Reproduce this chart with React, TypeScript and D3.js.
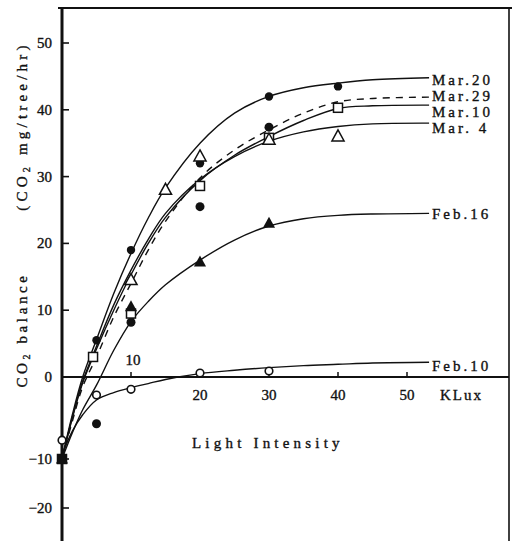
import React from "react";
import * as d3 from "d3";

// curve knots (x in KLux, y in CO2 mg/tree/hr)
const curveX = [0, 1.5, 3, 5, 7.5, 10, 12.5, 15, 20, 25, 30, 35, 40, 45, 53.2];
const mar20Curve = [-10, -4.6, 0, 5.6, 12.5, 18.5, 23.8, 28.3, 35, 39.5, 42, 43.3, 44, 44.5, 44.8];
const mar29Curve = [-10, -5.4, -1.2, 3, 9, 14, 19, 23.3, 29.8, 34, 37, 39.5, 41.2, 41.7, 41.9];
const mar10Curve = [-10, -5.0, -0.7, 4.2, 10, 15.3, 20, 23.9, 29.4, 33.2, 36, 38.4, 40.2, 40.6, 40.7];
const mar4Curve = [-10, -4.9, -0.5, 4.6, 10.8, 16, 20.6, 24.5, 29.6, 33, 35.3, 36.7, 37.5, 37.9, 38];
const feb16Curve = [-10, -6.8, -4.0, -1.0, 4.0, 8.3, 11.3, 13.8, 17.5, 20.5, 22.6, 23.7, 24.2, 24.4, 24.5];
const feb10Curve = [-9.5, -6.6, -4.6, -2.8, -1.9, -1.3, -0.8, -0.3, 0.5, 1.0, 1.4, 1.7, 1.9, 2.1, 2.2];

// observed points
const mar20PtsX = [5, 10, 20, 30, 40];
const mar20PtsY = [5.5, 19, 32, 42, 43.5];
const mar29PtsX = [0, 5, 10, 20, 30];
const mar29PtsY = [-10, -5.7, 8.2, 25.5, 37.4];
const mar10PtsX = [0, 4.5, 10, 20, 30, 40];
const mar10PtsY = [-10, 3, 9.5, 28.6, 35.8, 40.3];
const mar4PtsX = [10, 15, 20, 30, 40];
const mar4PtsY = [14.5, 28, 33, 35.5, 36];
const feb16PtsX = [0, 10, 20, 30];
const feb16PtsY = [-10, 10.5, 17.2, 23];
const feb10PtsX = [0, 5, 10, 20, 30];
const feb10PtsY = [-7.7, -2.2, -1.5, 0.6, 0.9];

const yTicks = [50, 40, 30, 20, 10, 0, -10, -20];
const xTicksBelow = [20, 30, 40, 50];
const xTickAbove = [10];

const seriesNames = ["Mar.20", "Mar.29", "Mar.10", "Mar. 4", "Feb.16", "Feb.10"];

const FONT = "'Liberation Serif', 'DejaVu Serif', serif";

export default function App() {
  const x = d3.scaleLinear().domain([0, 50]).range([62, 407]);
  const y = d3.scaleLinear().domain([-20, -10, 0, 50]).range([508, 459, 377, 43]);

  const line = d3
    .line<[number, number]>()
    .x((d) => x(d[0]))
    .y((d) => y(d[1]))
    .curve(d3.curveCatmullRom.alpha(0.5));

  const mk = (ys: number[]) => curveX.map((v, i) => [v, ys[i]] as [number, number]);

  const curves = [
    { name: seriesNames[0], data: mk(mar20Curve), dash: null, labelY: 80 },
    { name: seriesNames[1], data: mk(mar29Curve), dash: "7,6", labelY: 96 },
    { name: seriesNames[2], data: mk(mar10Curve), dash: null, labelY: 112 },
    { name: seriesNames[3], data: mk(mar4Curve), dash: null, labelY: 128 },
    { name: seriesNames[4], data: mk(feb16Curve), dash: null, labelY: 214 },
    { name: seriesNames[5], data: mk(feb10Curve), dash: null, labelY: 366 },
  ];

  const pts = (xs: number[], ys: number[]) => xs.map((v, i) => [x(v), y(ys[i])]);

  const tri = (cx: number, cy: number, s: number) =>
    `M${cx},${cy - s * 0.6} L${cx + s * 0.55},${cy + s * 0.4} L${cx - s * 0.55},${cy + s * 0.4} Z`;

  const ts = { fill: "#111", stroke: "#111", strokeWidth: 0.35 };

  return (
    <svg
      width={515}
      height={541}
      style={{ position: "absolute", left: 0, top: 0, background: "#fff" }}
      fontFamily={FONT}
    >
      {/* frame */}
      <line x1={58} y1={8} x2={512} y2={8} stroke="#111" strokeWidth={2} />
      <line x1={509} y1={8} x2={509} y2={541} stroke="#111" strokeWidth={1.6} />
      <line x1={x(0)} y1={7} x2={x(0)} y2={541} stroke="#111" strokeWidth={3} />
      {/* x axis */}
      <line x1={x(0)} y1={y(0)} x2={509} y2={y(0)} stroke="#111" strokeWidth={2} />
      {[...xTickAbove, ...xTicksBelow].map((t) => (
        <line key={"xt" + t} x1={x(t)} x2={x(t)} y1={y(0)} y2={y(0) - 5} stroke="#111" strokeWidth={1.5} />
      ))}
      {xTickAbove.map((t) => (
        <text key={"xa" + t} x={x(t) + 2} y={y(0) - 12} textAnchor="middle" fontSize={15} {...ts}>
          {t}
        </text>
      ))}
      {xTicksBelow.map((t) => (
        <text key={"xb" + t} x={x(t)} y={y(0) + 23} textAnchor="middle" fontSize={15} {...ts}>
          {t}
        </text>
      ))}
      <text x={440} y={y(0) + 23} fontSize={15} letterSpacing={2} {...ts}>
        KLux
      </text>
      <text x={192} y={448} fontSize={15} letterSpacing={4.2} {...ts}>
        Light Intensity
      </text>

      {/* y axis ticks */}
      {yTicks.map((t) => (
        <g key={"yt" + t}>
          {t !== 0 && (
            <line x1={x(0)} x2={x(0) + 7} y1={y(t)} y2={y(t)} stroke="#111" strokeWidth={1.6} />
          )}
          <text x={52} y={y(t) + 5} textAnchor="end" fontSize={15} {...ts}>
            {t < 0 ? "\u2212" + Math.abs(t) : t}
          </text>
        </g>
      ))}
      <text
        transform="translate(27,126) rotate(-90)"
        textAnchor="middle"
        fontSize={15}
        letterSpacing={4.2}
        {...ts}
      >
        (CO<tspan fontSize={10} dy={3}>2</tspan>
        <tspan dy={-3}> mg/tree/hr)</tspan>
      </text>
      <text
        transform="translate(27,330) rotate(-90)"
        textAnchor="middle"
        fontSize={15}
        letterSpacing={3.6}
        {...ts}
      >
        CO<tspan fontSize={10} dy={3}>2</tspan>
        <tspan dy={-3}> balance</tspan>
      </text>

      {/* curves */}
      {curves.map((c) => (
        <path
          key={c.name}
          d={line(c.data) || ""}
          fill="none"
          stroke="#111"
          strokeWidth={1.4}
          strokeDasharray={c.dash || undefined}
        />
      ))}
      {curves.map((c) => (
        <text key={"l" + c.name} x={432} y={c.labelY + 5} fontSize={15} letterSpacing={3} {...ts}>
          {c.name}
        </text>
      ))}

      {/* markers */}
      {pts(mar20PtsX, mar20PtsY).map(([cx, cy], i) => (
        <circle key={"m20" + i} cx={cx} cy={cy} r={4.2} fill="#111" />
      ))}
      {pts(mar29PtsX, mar29PtsY).map(([cx, cy], i) => (
        <circle key={"m29" + i} cx={cx} cy={cy} r={4.5} fill="#111" />
      ))}
      {pts(mar10PtsX, mar10PtsY).map(([cx, cy], i) => (
        <rect
          key={"m10" + i}
          x={cx - 4.5}
          y={cy - 4.5}
          width={9}
          height={9}
          fill={i === 0 ? "#111" : "#fff"}
          stroke="#111"
          strokeWidth={1.5}
        />
      ))}
      {pts(mar4PtsX, mar4PtsY).map(([cx, cy], i) => (
        <path key={"m4" + i} d={tri(cx, cy, 11)} fill="#fff" stroke="#111" strokeWidth={1.5} />
      ))}
      {pts(feb16PtsX, feb16PtsY).map(([cx, cy], i) => (
        <path key={"f16" + i} d={tri(cx, cy, 11)} fill="#111" />
      ))}
      {pts(feb10PtsX, feb10PtsY).map(([cx, cy], i) => (
        <circle key={"f10" + i} cx={cx} cy={cy} r={3.8} fill="#fff" stroke="#111" strokeWidth={1.6} />
      ))}
    </svg>
  );
}
